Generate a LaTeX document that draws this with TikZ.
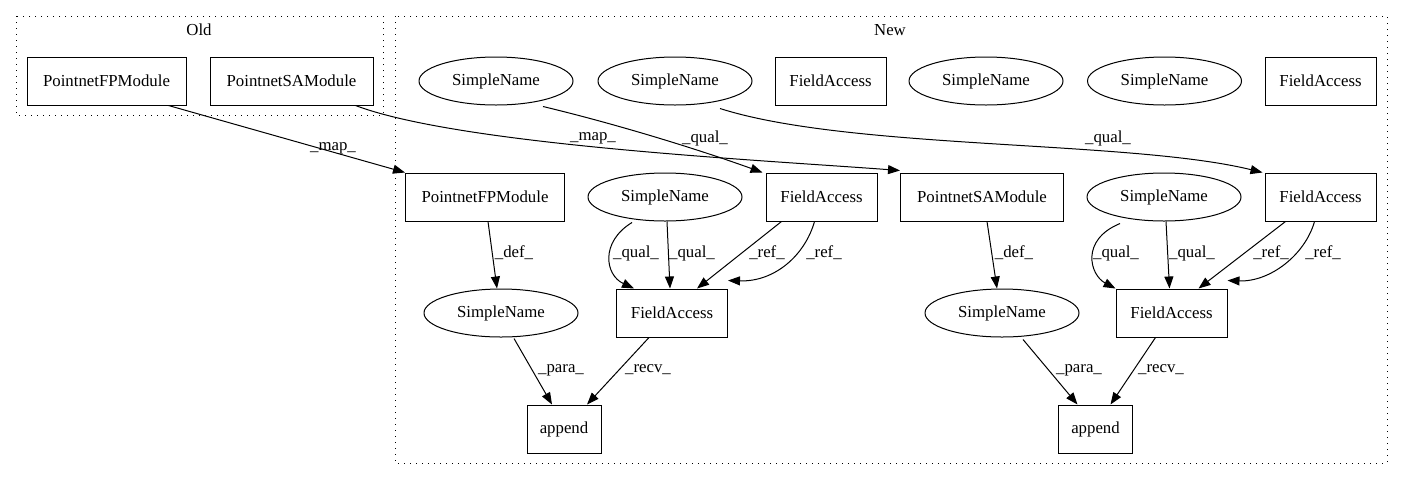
\documentclass[tikz,border=0pt]{standalone}
\usepackage{fontspec}
\setmainfont{Liberation Serif}
\usetikzlibrary{arrows.meta,shapes.geometric}
\begin{document}
\begin{tikzpicture}[x=1pt,y=-1pt,
  every node/.style={font=\fontsize{16.8}{19}\selectfont},
  box/.style={draw,line width=1pt,rectangle,minimum height=48pt,minimum width=#1,inner sep=0pt},
  box/.default=111pt,
  ell/.style={draw,line width=1pt,ellipse,minimum width=154pt,minimum height=48pt,inner sep=0pt},
  cluster/.style={draw,line width=1pt,dash pattern=on 1.2pt off 4.8pt},
  lbl/.style={inner sep=0pt},
  conn/.style={line width=1pt,-{Triangle[length=12pt,width=9pt]}}]
\useasboundingbox (0,0) rectangle (1404,480);
% clusters
\draw[cluster] (16,16) rectangle (383,115);
\node[lbl] (oldl) at (199,30) {Old};
\draw[cluster] (395,16) rectangle (1387,463);
\node[lbl] (newl) at (890,30) {New};
% old nodes
\node[box=159pt] (ofp) at (106.5,81) {PointnetFPModule};
\node[box=163pt] (osa) at (291.5,81) {PointnetSAModule};
% new top row
\node[ell] (sn1) at (496,81) {SimpleName};
\node[ell] (sn2) at (675,81) {SimpleName};
\node[box] (fat1) at (830.5,81) {FieldAccess};
\node[ell] (sn3) at (986,81) {SimpleName};
\node[ell] (sn4) at (1164.5,81) {SimpleName};
\node[box] (fat2) at (1320.5,81) {FieldAccess};
% second row
\node[box=159pt] (nfp) at (485,197) {PointnetFPModule};
\node[ell] (snm1) at (665,197) {SimpleName};
\node[box] (fam1) at (821.5,197) {FieldAccess};
\node[box=163pt] (nsa) at (982,197) {PointnetSAModule};
\node[ell] (snm2) at (1164,197) {SimpleName};
\node[box] (fam2) at (1320.5,197) {FieldAccess};
% third row
\node[ell] (snl) at (501,313) {SimpleName};
\node[box] (fal) at (672,313) {FieldAccess};
\node[ell] (snr) at (1002,313) {SimpleName};
\node[box] (far) at (1171.5,313) {FieldAccess};
% fourth row
\node[box=74pt] (apl) at (564,429) {append};
\node[box=74pt] (apr) at (1095.5,429) {append};
% edges
\draw[conn] (ofp.south east) ++(-18,0) -- (nfp.north west);
\node[lbl] (m1) at (333,148) {\_map\_};
\draw[conn] (osa.south east) ++(-18,0) .. controls (460,145) and (760,160) .. ([yshift=2pt]nsa.north west);
\node[lbl] (m2) at (593,138) {\_map\_};
\draw[conn] ([xshift=47pt,yshift=-1pt]sn1.south) .. controls (620,125) and (700,150) .. ([xshift=-3pt]fam1.north west);
\node[lbl] (q1) at (705,138) {\_qual\_};
\draw[conn] ([xshift=45pt,yshift=-3pt]sn2.south) .. controls (850,150) and (1130,140) .. ([xshift=-2pt]fam2.north west);
\node[lbl] (q2) at (1108,138) {\_qual\_};
% left group
\draw[conn] ([xshift=3pt]nfp.south) -- ([xshift=-4pt]snl.north);
\node[lbl] (d1) at (514,253) {\_def\_};
\draw[conn] ([xshift=-33pt,yshift=-1pt]snm1.south) .. controls (600,242) and (605,275) .. ([xshift=-38pt]fal.north);
\node[lbl] (q3) at (636,253) {\_qual\_};
\draw[conn] ([xshift=2pt]snm1.south) -- ([xshift=-2pt]fal.north);
\node[lbl] (q4) at (692,253) {\_qual\_};
\draw[conn] ([xshift=-40pt]fam1.south) -- ([xshift=25pt]fal.north);
\node[lbl] (r1) at (767,253) {\_ref\_};
\draw[conn] ([xshift=-7pt]fam1.south) .. controls (805,255) and (775,282) .. ([yshift=8pt]fal.north east);
\node[lbl] (r2) at (824,253) {\_ref\_};
\draw[conn] ([xshift=13pt,yshift=-1pt]snl.south) -- ([xshift=-12pt]apl.north);
\node[lbl] (p1) at (561,370) {\_para\_};
\draw[conn] ([xshift=-23pt]fal.south) -- ([xshift=23pt]apl.north);
\node[lbl] (rc1) at (648,370) {\_recv\_};
% right group
\draw[conn] ([xshift=5pt]nsa.south) -- ([xshift=-5pt]snr.north);
\node[lbl] (d2) at (1014,253) {\_def\_};
\draw[conn] ([xshift=-44pt,yshift=-2pt]snm2.south) .. controls (1080,240) and (1090,275) .. ([xshift=-56pt]far.north);
\node[lbl] (q5) at (1116,253) {\_qual\_};
\draw[conn] ([xshift=2pt]snm2.south) -- ([xshift=-2pt]far.north);
\node[lbl] (q6) at (1192,253) {\_qual\_};
\draw[conn] ([xshift=-35pt]fam2.south) -- ([xshift=27pt]far.north);
\node[lbl] (r3) at (1271,253) {\_ref\_};
\draw[conn] ([xshift=-6pt]fam2.south) .. controls (1305,255) and (1270,282) .. ([yshift=8pt]far.north east);
\node[lbl] (r4) at (1323,253) {\_ref\_};
\draw[conn] ([xshift=21pt,yshift=-2pt]snr.south) -- ([xshift=-18pt]apr.north);
\node[lbl] (p2) at (1079,370) {\_para\_};
\draw[conn] ([xshift=-16pt]far.south) -- ([xshift=15pt]apr.north);
\node[lbl] (rc2) at (1161,370) {\_recv\_};
\end{tikzpicture}
\end{document}
